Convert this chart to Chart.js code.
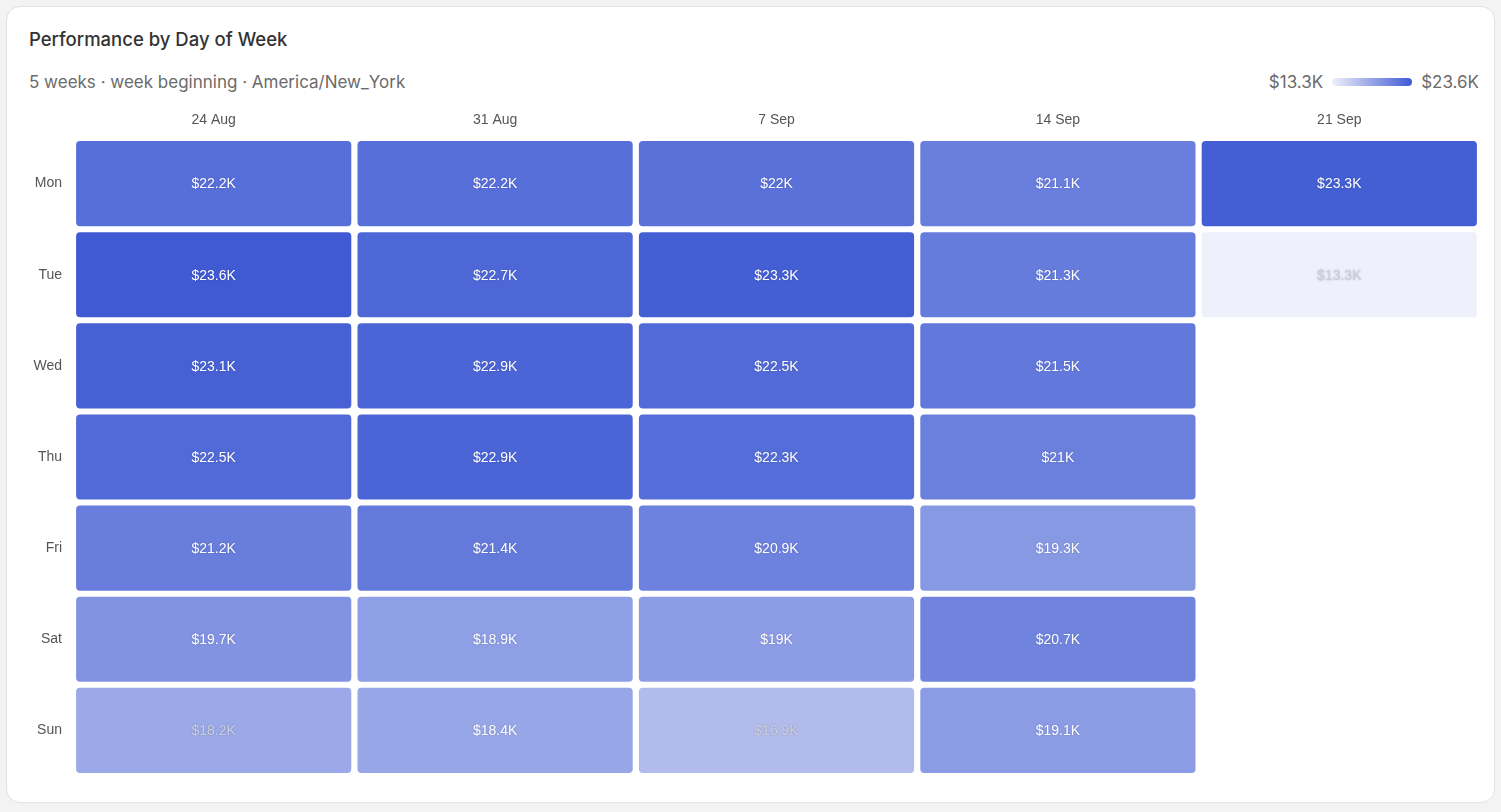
<!DOCTYPE html>
<html>
<head>
<meta charset="utf-8">
<script src="https://cdn.jsdelivr.net/npm/chart.js@4"></script>
<style>
  html, body { margin: 0; padding: 0; background: #f3f3f4; }
  body { width: 1501px; height: 812px; position: relative; overflow: hidden; font-family: Inter, "Liberation Sans", sans-serif; }
  .card { position: absolute; left: 6px; top: 6px; width: 1487px; height: 795px; background: #fff; border: 1px solid #e2e2e4; border-radius: 14px; }
  .title { position: absolute; left: 29px; top: 28px; font-size: 18.5px; font-weight: 500; color: #333; }
  .sub { position: absolute; left: 29px; top: 72px; font-size: 17px; color: #6b6b6b; }
  .legend { position: absolute; right: 22px; top: 72px; font-size: 17px; color: #6b6b6b; display: flex; align-items: center; }
  .legend .bar { width: 80px; height: 8px; border-radius: 4px; margin: 0 9px; }
  .wrap { position: absolute; left: 17px; top: 97px; width: 1463px; height: 679px; }
</style>
</head>
<body>
<div class="card"></div>
<div class="title">Performance by Day of Week</div>
<div class="sub">5 weeks · week beginning · America/New_York</div>
<div class="legend"><span id="lmin"></span><span class="bar" id="lbar"></span><span id="lmax"></span></div>
<div class="wrap"><canvas id="heat"></canvas></div>
<script>
// weeks (columns) and days (rows)
const weeks = ['24 Aug', '31 Aug', '7 Sep', '14 Sep', '21 Sep'];
const days = ['Mon', 'Tue', 'Wed', 'Thu', 'Fri', 'Sat', 'Sun'];

// values in $K, one array per day, one entry per week
const mon = [22.2, 22.2, 22, 21.1, 23.3];
const tue = [23.6, 22.7, 23.3, 21.3, 13.3];
const wed = [23.1, 22.9, 22.5, 21.5, null];
const thu = [22.5, 22.9, 22.3, 21, null];
const fri = [21.2, 21.4, 20.9, 19.3, null];
const sat = [19.7, 18.9, 19, 20.7, null];
const sun = [18.2, 18.4, 16.9, 19.1, null];
const rows = [mon, tue, wed, thu, fri, sat, sun];

const minV = 13.3, maxV = 23.6;
const base = [63, 90, 211];

function colorFor(v) {
  const t = (v - minV) / (maxV - minV);
  const a = 0.09 + 0.91 * t;
  return `rgba(${base[0]}, ${base[1]}, ${base[2]}, ${a.toFixed(3)})`;
}
const fmt = v => '$' + v + 'K';

document.getElementById('lmin').textContent = fmt(minV);
document.getElementById('lmax').textContent = fmt(maxV);
document.getElementById('lbar').style.background = `linear-gradient(to right, ${colorFor(minV)}, ${colorFor(maxV)})`;

const half = 0.467;
const datasets = rows.map((vals, d) => ({
  label: days[d],
  data: vals.map(v => v == null ? null : [d - half, d + half]),
  backgroundColor: vals.map(v => v == null ? 'transparent' : colorFor(v)),
  borderRadius: 4,
  borderSkipped: false,
  grouped: false,
  barPercentage: 0.978,
  categoryPercentage: 1,
}));

const labelFont = { size: 14, family: '"Liberation Sans", Arial, sans-serif' };

// draws the $ value in the middle of each cell
const cellLabels = {
  id: 'cellLabels',
  afterDatasetsDraw(chart) {
    const c = chart.ctx;
    c.save();
    c.font = '14px "Liberation Sans", Arial, sans-serif';
    c.textAlign = 'center';
    c.textBaseline = 'middle';
    chart.data.datasets.forEach((ds, d) => {
      const meta = chart.getDatasetMeta(d);
      meta.data.forEach((bar, w) => {
        const v = rows[d][w];
        if (v == null) return;
        const y = (bar.y + bar.base) / 2;
        c.shadowColor = 'rgba(30, 40, 90, 0.3)';
        c.shadowBlur = 2;
        c.fillStyle = v < 18.3 ? '#cdcfd9' : '#ffffff';
        c.fillText(fmt(v), bar.x, y + 1);
      });
    });
    c.restore();
  }
};

new Chart(document.getElementById('heat').getContext('2d'), {
  type: 'bar',
  data: { labels: weeks, datasets: datasets },
  options: {
    responsive: true,
    maintainAspectRatio: false,
    animation: false,
    layout: { padding: 0 },
    plugins: {
      legend: { display: false },
      tooltip: { enabled: false }
    },
    scales: {
      x: {
        position: 'top',
        grid: { display: false },
        border: { display: false },
        ticks: { color: '#555', padding: 1, font: labelFont },
        afterFit: s => { s.height = 41; }
      },
      y: {
        min: -0.5,
        max: 6.5,
        reverse: true,
        grid: { display: false },
        border: { display: false },
        afterBuildTicks: s => { s.ticks = days.map((d, i) => ({ value: i })); },
        ticks: {
          color: '#555',
          padding: 3,
          font: labelFont,
          callback: v => days[v]
        },
        afterFit: s => { s.width = 56; s.paddingTop = 0; s.paddingBottom = 0; }
      }
    }
  },
  plugins: [cellLabels]
});
</script>
</body>
</html>
